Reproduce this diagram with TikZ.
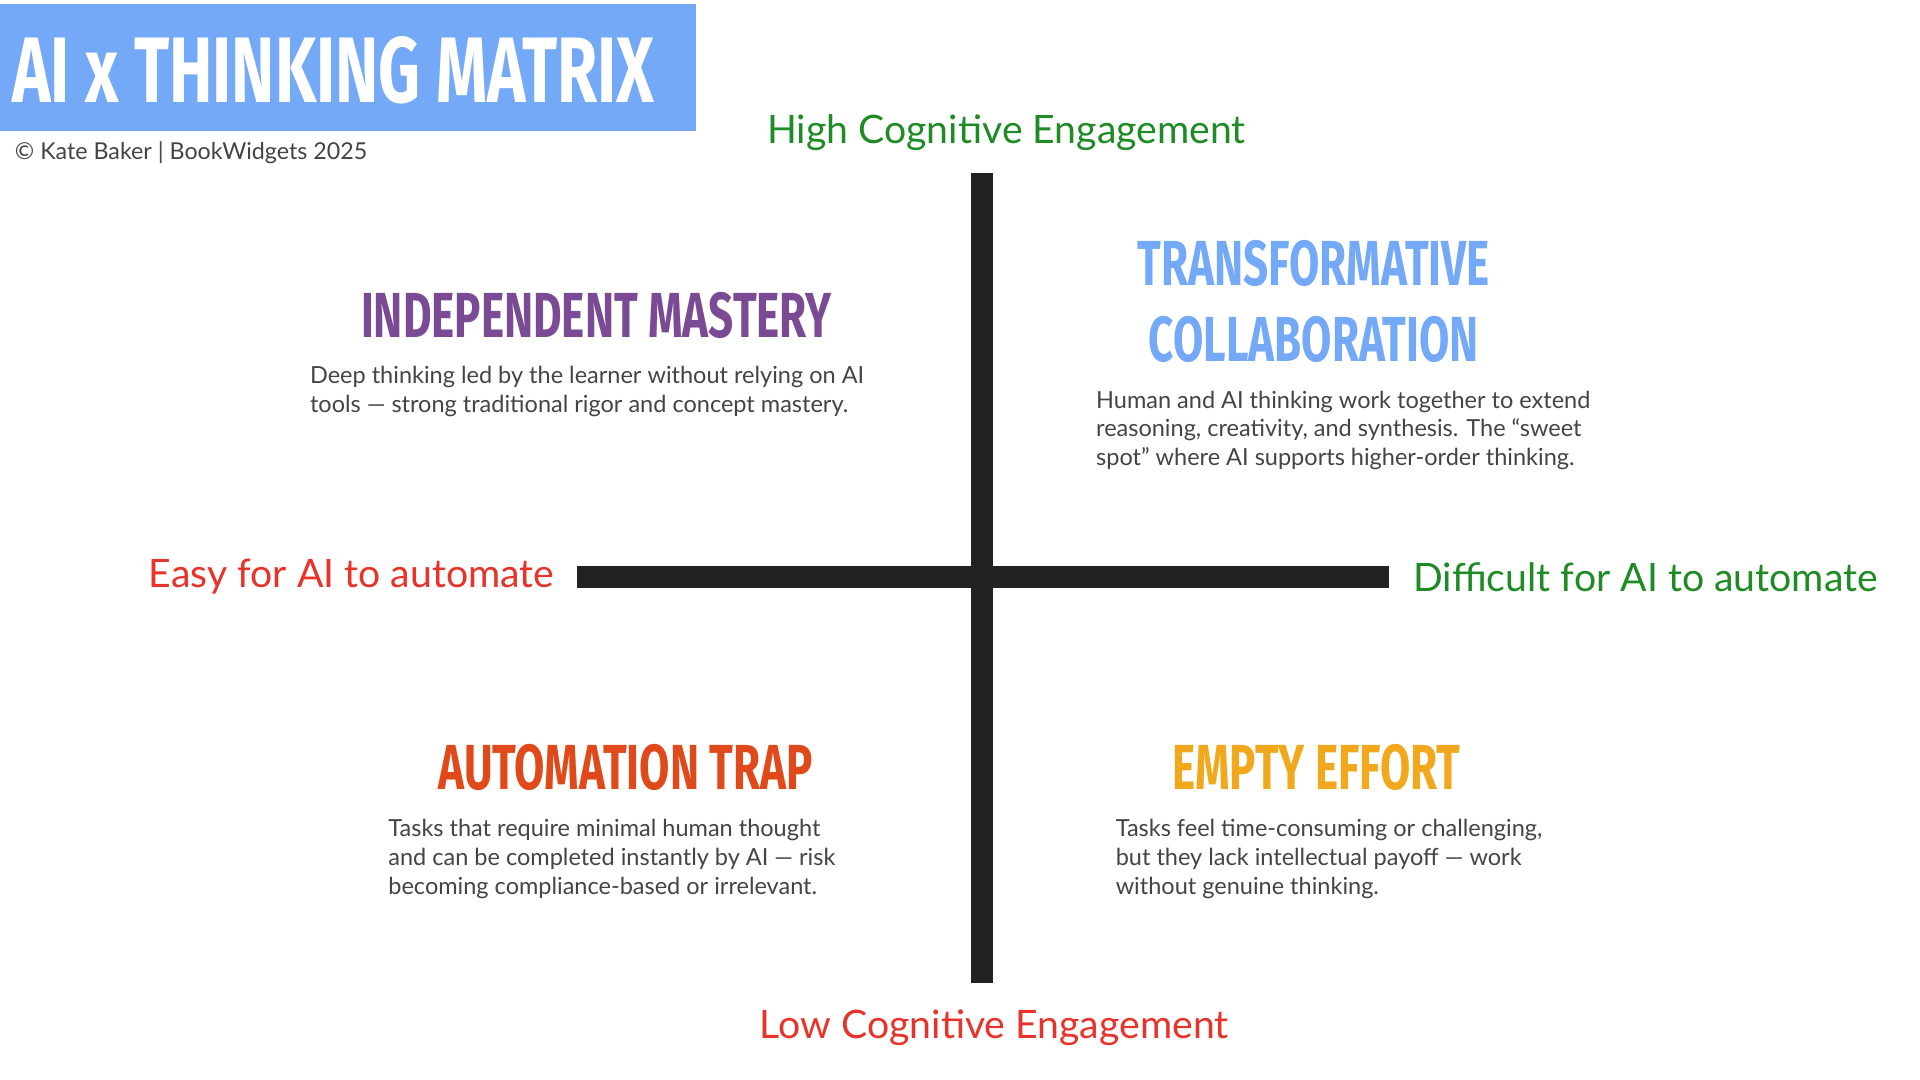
\documentclass[tikz,border=0pt]{standalone}
\usepackage{fontspec}
\setmainfont{Lato}
\newfontfamily\headfont{Fira Sans}
\usetikzlibrary{positioning}
\definecolor{titleblue}{HTML}{74A9F7}
\definecolor{axisgray}{HTML}{222222}
\definecolor{bodygray}{HTML}{444444}
\definecolor{hipurple}{HTML}{7B4A94}
\definecolor{trapred}{HTML}{E04A1A}
\definecolor{effortyellow}{HTML}{F2A81D}
\definecolor{easyred}{HTML}{E8332A}
\definecolor{hardgreen}{HTML}{1E8B24}
\newcommand{\condensed}[1]{\scalebox{0.69}[1]{#1}}
\begin{document}
\begin{tikzpicture}[x=1pt, y=-1pt,
    heading/.style={font=\headfont\bfseries\fontsize{52}{60}\selectfont, inner sep=0pt},
    body/.style={font=\fontsize{19.2}{23.5}\selectfont, text=bodygray, align=left, inner sep=0pt, anchor=north west},
    axislabel/.style={font=\fontsize{32}{36}\selectfont, inner sep=0pt},
    bar/.style={fill=axisgray}
  ]
  \useasboundingbox (0,0) rectangle (1568,882);
  % title
  \fill[titleblue] (0,3) rectangle (568,107);
  \node[font=\headfont\bfseries\fontsize{76}{80}\selectfont, text=white, anchor=west, inner sep=0pt] (title) at (10,57) {\scalebox{0.70}[1]{AI x THINKING MATRIX}};
  \node[font=\fontsize{19}{22}\selectfont, text=bodygray, anchor=west, inner sep=0pt] (credit) at (12,125) {© Kate Baker | BookWidgets 2025};
  % axes
  \fill[bar] (793,141) rectangle (811,803);
  \fill[bar] (471,462) rectangle (1134,480);
  \node[axislabel, text=hardgreen] (high) at (822,108) {High Cognitive Engagement};
  \node[axislabel, text=easyred] (low) at (812,839) {Low Cognitive Engagement};
  \node[axislabel, text=easyred, anchor=east] (easy) at (453,471) {Easy for AI to automate};
  \node[axislabel, text=hardgreen, anchor=west] (hard) at (1154,471) {Difficult for AI to automate};
  % quadrants
  \node[heading, text=hipurple] (mastery) at (487,258) {\condensed{INDEPENDENT MASTERY}};
  \node[body] (masterytext) at (253,299) {Deep thinking led by the learner without relying on AI\\tools — strong traditional rigor and concept mastery.};
  \node[heading, text=titleblue] (transform) at (1073,215) {\condensed{TRANSFORMATIVE}};
  \node[heading, text=titleblue] (collab) at (1073,277) {\condensed{COLLABORATION}};
  \node[body] (collabtext) at (895,319) {Human and AI thinking work together to extend\\reasoning, creativity, and synthesis. The “sweet\\spot” where AI supports higher-order thinking.};
  \node[heading, text=trapred] (trap) at (511,627) {\condensed{AUTOMATION TRAP}};
  \node[body] (traptext) at (317,669) {Tasks that require minimal human thought\\and can be completed instantly by AI — risk\\becoming compliance-based or irrelevant.};
  \node[heading, text=effortyellow] (effort) at (1075,627) {\condensed{EMPTY EFFORT}};
  \node[body] (efforttext) at (911,669) {Tasks feel time-consuming or challenging,\\but they lack intellectual payoff — work\\without genuine thinking.};
\end{tikzpicture}
\end{document}
